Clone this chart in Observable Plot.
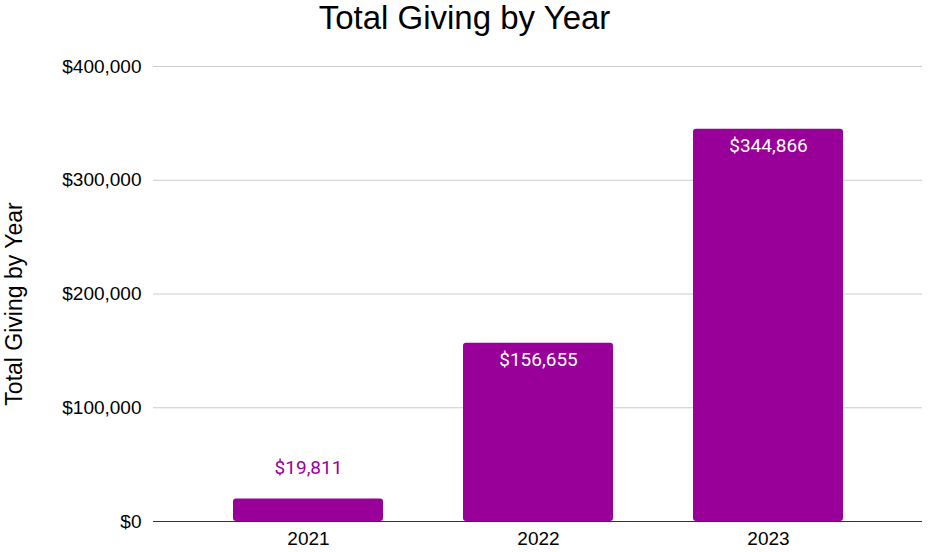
<!DOCTYPE html>
<html>
<head>
<meta charset="utf-8">
<script src="https://cdn.jsdelivr.net/npm/d3@7"></script>
<script src="https://cdn.jsdelivr.net/npm/@observablehq/plot@0.6"></script>
<style>
  body { margin: 0; background: #fff; width: 929px; height: 552px; overflow: hidden; }
  #title { font-family: "Liberation Sans", Arial, sans-serif; font-size: 33px; line-height: 36px; height: 36px; text-align: center; color: #000; }
  svg { display: block; }
</style>
</head>
<body>
<div id="title">Total Giving by Year</div>
<div id="chart"></div>
<script>
const years = ["2021", "2022", "2023"];
const totals = [19811, 156655, 344866];
const yTicks = [0, 100000, 200000, 300000, 400000];
const yAxisLabel = "Total Giving by Year";

const data = years.map((year, i) => ({year, total: totals[i]}));
const fmt = v => "$" + d3.format(",")(v);
const purple = "#990099";
const insideMin = 50000;

const chart = Plot.plot({
  width: 929,
  height: 516,
  marginLeft: 153,
  marginRight: 7,
  marginTop: 30,
  marginBottom: 31,
  style: {fontFamily: "'Liberation Sans', Arial, sans-serif", fontSize: "19px", color: "#000", background: "#fff"},
  x: {domain: years, paddingInner: 0.35, paddingOuter: 0.34, label: null},
  y: {domain: [0, 400000], label: null},
  marks: [
    Plot.gridY(yTicks, {stroke: "#cccccc", strokeOpacity: 1, strokeWidth: 1}),
    Plot.axisY(yTicks, {tickSize: 0, tickPadding: 12, tickFormat: fmt, label: null, fontSize: 19}),
    Plot.text([yAxisLabel], {frameAnchor: "left", textAnchor: "middle", rotate: -90, dx: -139, dy: 10, fontSize: 23}),
    Plot.axisX({tickSize: 0, tickPadding: 10, fontSize: 19, label: null}),
    Plot.barY(data, {x: "year", y: "total", fill: purple, rx: 3}),
    Plot.ruleY([0], {stroke: "#333333", strokeWidth: 1}),
    Plot.text(data.filter(d => d.total >= insideMin), {x: "year", y: "total", text: d => fmt(d.total), dy: 17, fill: "#ffffff", fontSize: 19, fontFamily: "Roboto, sans-serif"}),
    Plot.text(data.filter(d => d.total < insideMin), {x: "year", y: "total", text: d => fmt(d.total), dy: -31, fill: purple, fontSize: 19, fontFamily: "Roboto, sans-serif"})
  ]
});
document.getElementById("chart").appendChild(chart);
</script>
</body>
</html>
